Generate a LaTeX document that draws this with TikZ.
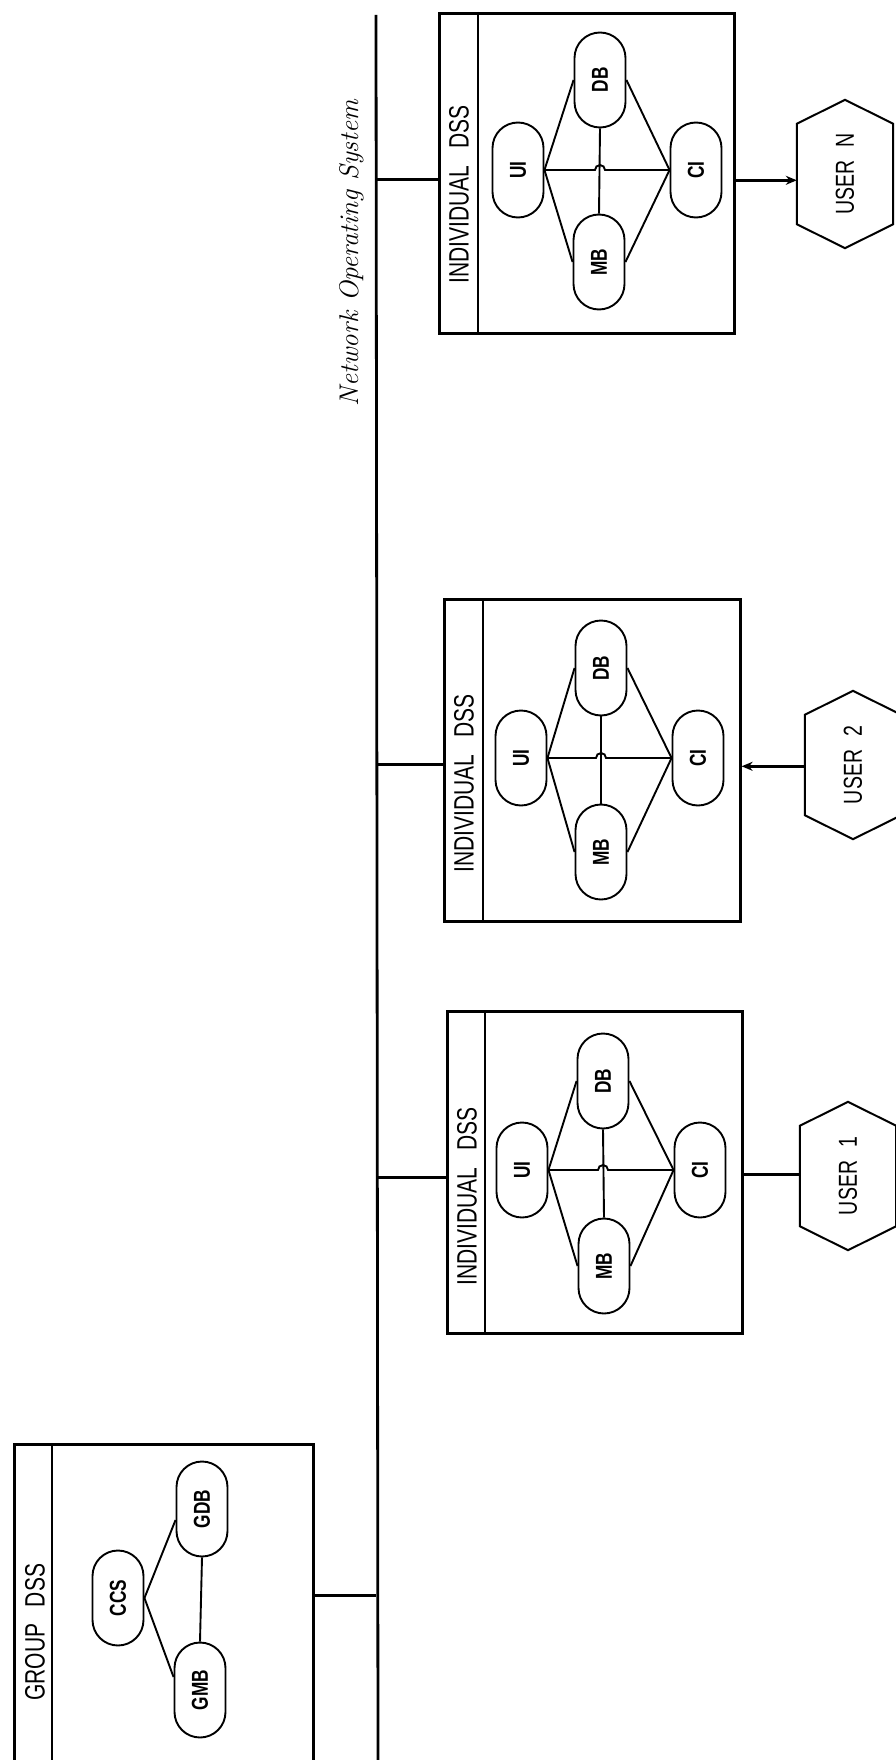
\documentclass[tikz,border=0pt]{standalone}
\usepackage{fontspec}
\usepackage{graphicx}
\newfontfamily\lbl[FakeStretch=0.75]{Liberation Sans}
\usetikzlibrary{calc,arrows.meta}
\begin{document}
\begin{tikzpicture}[x=1pt,y=-1pt,
  box/.style={draw, line width=2.6pt, inner sep=0pt},
  divline/.style={line width=2.4pt},
  comp/.style={draw, line width=1.9pt, rounded corners=25.5pt, minimum width=51pt, minimum height=95pt, inner sep=0pt, font=\lbl\bfseries\fontsize{23}{23}\selectfont},
  hdr/.style={font=\lbl\fontsize{28}{28}\selectfont, inner sep=0pt},
  link/.style={line width=1.9pt},
  conn/.style={line width=2.8pt},
  usr/.style={minimum width=96pt, minimum height=148pt, inner sep=0pt, font=\lbl\fontsize{26}{26}\selectfont},
  hexline/.style={line width=2pt, line join=miter},
  tip/.style={-{Stealth[length=11pt,width=9pt]}}
]
\clip (0,0) rectangle (896,1760);
\fill[white] (0,0) rectangle (896,1760);

% network bus
\coordinate (bustop) at (376,15);
\coordinate (busbot) at (378,1760);
\draw[conn] (bustop) -- (busbot);
\node[rotate=90, font=\fontsize{27}{30}\selectfont\itshape, inner sep=0pt] (nos) at (352,253) {Network Operating System};

% ---------- GROUP DSS ----------
\node[box, minimum width=299pt, minimum height=330pt, anchor=north west] (gb) at (13,1443) {};
\draw[divline] ($(gb.north west)+(39,0)$) -- ($(gb.south west)+(39,0)$);
\node[hdr] (gh) at ($(gb.west)+(22,23)$) {\rotatebox{90}{GROUP\hspace{0.6em}DSS}};
\node[comp] (ccs) at (118,1598) {\rotatebox{90}{CCS}};
\node[comp] (gdb) at (202,1509) {\rotatebox{90}{GDB}};
\node[comp] (gmb) at (200,1690) {\rotatebox{90}{GMB}};
\draw[link] (ccs.east) -- ($(gdb.west)+(0,11)$);
\draw[link] (ccs.east) -- ($(gmb.west)+(0,-13)$);
\draw[link] (gdb.south) -- (gmb.north);
\coordinate (gbin) at ($(gb.east)+(0,-14)$);
\draw[conn] (gbin) -- (bustop |- gbin);

% ---------- INDIVIDUAL DSS (user N) ----------
\node[box, minimum width=295pt, minimum height=320pt, anchor=north west] (bn) at (438,12) {};
\draw[divline] ($(bn.north west)+(40,0)$) -- ($(bn.south west)+(40,0)$);
\node[hdr] (hn) at ($(bn.west)+(21,21)$) {\rotatebox{90}{INDIVIDUAL\hspace{0.6em}DSS}};
\node[comp] (nui) at (518,170) {\rotatebox{90}{UI}};
\node[comp] (ndb) at (600,80) {\rotatebox{90}{DB}};
\node[comp] (nmb) at (599,262) {\rotatebox{90}{MB}};
\node[comp] (nci) at (696,170) {\rotatebox{90}{CI}};
\coordinate (nx) at (ndb |- nui.east);
\draw[link] (nui.east) -- (ndb.west);
\draw[link] (nui.east) -- (nmb.west);
\draw[link] (nui.east) -- ($(nx)+(-5,0)$) arc[start angle=180, end angle=360, radius=5] -- (nci.west);
\draw[link] (ndb.south) -- (nmb.north);
\draw[link] (nci.west) -- (ndb.east);
\draw[link] (nci.west) -- (nmb.east);
\coordinate (bnin) at ($(bn.west)+(0,6)$);
\draw[conn] (bustop |- bnin) -- (bnin);
\node[usr] (un) at (845,174) {\rotatebox{90}{USER\hspace{0.5em}N}};
\draw[hexline] (un.north) -- ($(un.north east)+(0,24)$) -- ($(un.south east)+(0,-24)$) -- (un.south) -- ($(un.south west)+(0,-24)$) -- ($(un.north west)+(0,24)$) -- cycle;
\coordinate (bnout) at ($(bn.east)+(0,7)$);
\draw[conn,tip] (bnout) -- (un.west |- bnout);

% ---------- INDIVIDUAL DSS (user 2) ----------
\node[box, minimum width=296pt, minimum height=322pt, anchor=north west] (bt) at (443,598) {};
\draw[divline] ($(bt.north west)+(40,0)$) -- ($(bt.south west)+(40,0)$);
\node[hdr] (ht) at ($(bt.west)+(21,23)$) {\rotatebox{90}{INDIVIDUAL\hspace{0.6em}DSS}};
\node[comp] (tui) at (521,758) {\rotatebox{90}{UI}};
\node[comp] (tdb) at (601,668) {\rotatebox{90}{DB}};
\node[comp] (tmb) at (601,852) {\rotatebox{90}{MB}};
\node[comp] (tci) at (698,758) {\rotatebox{90}{CI}};
\coordinate (tx) at (tdb |- tui.east);
\draw[link] (tui.east) -- (tdb.west);
\draw[link] (tui.east) -- (tmb.west);
\draw[link] (tui.east) -- ($(tx)+(-5,0)$) arc[start angle=180, end angle=360, radius=5] -- (tci.west);
\draw[link] (tdb.south) -- (tmb.north);
\draw[link] (tci.west) -- (tdb.east);
\draw[link] (tci.west) -- (tmb.east);
\coordinate (btin) at ($(bt.west)+(0,4)$);
\draw[conn] (bustop |- btin) -- (btin);
\node[usr] (ut) at (853,765) {\rotatebox{90}{USER\hspace{0.5em}2}};
\draw[hexline] (ut.north) -- ($(ut.north east)+(0,24)$) -- ($(ut.south east)+(0,-24)$) -- (ut.south) -- ($(ut.south west)+(0,-24)$) -- ($(ut.north west)+(0,24)$) -- cycle;
\coordinate (btout) at ($(bt.east)+(0,6)$);
\draw[conn,tip] (ut.west |- btout) -- (btout);

% ---------- INDIVIDUAL DSS (user 1) ----------
\node[box, minimum width=295pt, minimum height=322pt, anchor=north west] (bo) at (446,1010) {};
\draw[divline] ($(bo.north west)+(39,0)$) -- ($(bo.south west)+(39,0)$);
\node[hdr] (ho) at ($(bo.west)+(21,24)$) {\rotatebox{90}{INDIVIDUAL\hspace{0.6em}DSS}};
\node[comp] (oui) at (522,1170) {\rotatebox{90}{UI}};
\node[comp] (odb) at (603,1081) {\rotatebox{90}{DB}};
\node[comp] (omb) at (604,1266) {\rotatebox{90}{MB}};
\node[comp] (oci) at (700,1170) {\rotatebox{90}{CI}};
\coordinate (ox) at (odb |- oui.east);
\draw[link] (oui.east) -- (odb.west);
\draw[link] (oui.east) -- (omb.west);
\draw[link] (oui.east) -- ($(ox)+(-5,0)$) arc[start angle=180, end angle=360, radius=5] -- (oci.west);
\draw[link] (odb.south) -- (omb.north);
\draw[link] (oci.west) -- (odb.east);
\draw[link] (oci.west) -- (omb.east);
\coordinate (boin) at ($(bo.west)+(0,5)$);
\draw[conn] (bustop |- boin) -- (boin);
\node[usr] (uo) at (848,1176) {\rotatebox{90}{USER\hspace{0.5em}1}};
\draw[hexline] (uo.north) -- ($(uo.north east)+(0,24)$) -- ($(uo.south east)+(0,-24)$) -- (uo.south) -- ($(uo.south west)+(0,-24)$) -- ($(uo.north west)+(0,24)$) -- cycle;
\coordinate (boout) at ($(bo.east)+(0,2)$);
\draw[conn] (boout) -- (uo.west |- boout);
\end{tikzpicture}
\end{document}
